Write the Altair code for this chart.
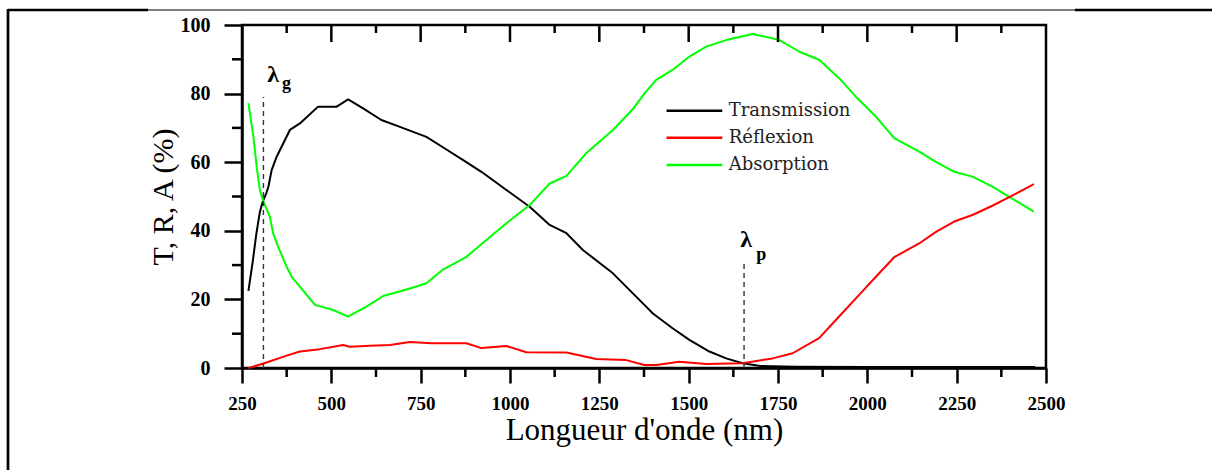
import altair as alt
import pandas as pd

# ---- series ---------------------------------------------------------------
SERIES = ["Transmission", "Réflexion", "Absorption"]
COLORS = ["#000000", "#ff0000", "#00ff00"]

T_NM = [268, 280, 290, 300, 308, 318, 324, 333, 347, 384, 412, 463, 515, 547,
        589, 640, 692, 766, 810, 869, 920, 990, 1055, 1111, 1158, 1204, 1288,
        1376, 1400, 1455, 1502, 1558, 1605, 1651, 1700, 1800, 2000, 2200, 2470]
T_VAL = [22.5, 31.0, 39.0, 45.5, 48.5, 51.0, 52.9, 57.7, 61.6, 69.4, 71.3,
         76.2, 76.2, 78.3, 75.7, 72.3, 70.3, 67.4, 64.5, 60.6, 57.2, 51.9,
         47.0, 41.7, 39.3, 34.4, 27.6, 18.4, 15.9, 11.6, 8.2, 4.8, 2.8, 1.4,
         0.6, 0.4, 0.3, 0.3, 0.3]

R_NM = [268, 310, 375, 412, 468, 533, 552, 608, 664, 720, 780, 878, 920, 990,
        1046, 1158, 1241, 1325, 1376, 1409, 1474, 1549, 1651, 1735, 1791, 1865,
        1921, 1977, 2024, 2075, 2145, 2192, 2243, 2294, 2350, 2397, 2466]
R_VAL = [0.0, 1.3, 3.6, 4.8, 5.5, 6.7, 6.2, 6.5, 6.7, 7.6, 7.2, 7.2, 5.8, 6.4,
         4.6, 4.5, 2.6, 2.3, 0.9, 0.9, 1.8, 1.2, 1.4, 2.8, 4.3, 8.7, 15.0,
         21.3, 26.6, 32.3, 36.3, 39.7, 42.7, 44.6, 47.3, 49.8, 53.6]

A_NM = [268, 282, 291, 300, 310, 328, 337, 351, 375, 389, 412, 454, 505, 547,
        598, 645, 720, 766, 810, 878, 934, 990, 1055, 1111, 1158, 1213, 1288,
        1344, 1376, 1409, 1455, 1502, 1549, 1605, 1679, 1754, 1810, 1866, 1921,
        1968, 2024, 2075, 2145, 2192, 2243, 2294, 2350, 2397, 2466]
A_VAL = [77.2, 67.4, 58.7, 51.9, 48.5, 44.1, 39.3, 35.4, 29.5, 26.6, 23.7,
         18.4, 16.9, 15.0, 17.9, 21.0, 23.2, 24.7, 28.5, 32.4, 37.3, 42.2,
         47.5, 53.8, 56.0, 62.6, 69.4, 75.5, 80.0, 84.0, 86.9, 90.8, 93.7,
         95.6, 97.4, 95.6, 92.2, 89.8, 84.5, 79.1, 73.3, 67.0, 63.1, 60.1,
         57.2, 55.8, 52.9, 49.9, 45.6]

# ---- axes -----------------------------------------------------------------
X_MAJOR = list(range(250, 2501, 250))
X_MINOR = list(range(375, 2500, 250))
Y_MAJOR = [0, 20, 40, 60, 80, 100]
Y_MINOR = [10, 30, 50, 70, 90]

# marked wavelengths: wavelength, top of the dashed line, subscript
MARKS_NM = [310, 1655]
MARKS_TOP = [79.0, 31.5]
MARKS_SUB = ["g", "p"]

SERIF = "Liberation Serif"
W, H = 804, 343

x_scale = alt.Scale(domain=[250, 2500], nice=False, zero=False)
y_scale = alt.Scale(domain=[0, 100], nice=False, zero=False)
color_scale = alt.Scale(domain=SERIES, range=COLORS)

x_axis = alt.Axis(values=X_MAJOR, format="d", grid=False,
                  labelFont=SERIF, labelFontWeight="bold", labelFontSize=19,
                  labelColor="black", labelPadding=11, labelFlush=False,
                  labelOverlap=False, tickSize=15, tickWidth=2.5,
                  tickColor="black", domainColor="black", domainWidth=2.5,
                  title="Longueur d'onde (nm)", titleFont=SERIF,
                  titleFontSize=31, titleFontWeight="normal",
                  titleColor="black", titlePadding=2)
y_axis = alt.Axis(values=Y_MAJOR, format="d", grid=False,
                  labelFont=SERIF, labelFontWeight="bold", labelFontSize=20,
                  labelColor="black", labelPadding=14, labelFlush=False,
                  labelOverlap=False, tickSize=18, tickWidth=2.5,
                  tickColor="black", domainColor="black", domainWidth=2.5,
                  title="T, R, A (%)", titleFont=SERIF, titleFontSize=30,
                  titleFontWeight="normal", titleColor="black",
                  titlePadding=2)

frames = {
    "Transmission": (T_NM, T_VAL),
    "Réflexion": (R_NM, R_VAL),
    "Absorption": (A_NM, A_VAL),
}

layers = []

# curves, black first so red and green sit on top of it
for name in ["Transmission", "Absorption", "Réflexion"]:
    nm, val = frames[name]
    df = pd.DataFrame({"nm": nm, "val": val, "series": name})
    layers.append(
        alt.Chart(df).mark_line(strokeWidth=2, strokeJoin="round").encode(
            x=alt.X("nm:Q", scale=x_scale, axis=x_axis),
            y=alt.Y("val:Q", scale=y_scale, axis=y_axis),
            color=alt.Color("series:N", scale=color_scale, legend=None),
        )
    )

# minor ticks on the bottom (outside) and all ticks on the top (inside)
minor_x = pd.DataFrame({"nm": X_MINOR})
major_x = pd.DataFrame({"nm": X_MAJOR[1:-1]})
layers.append(alt.Chart(minor_x).mark_rule(color="black", strokeWidth=2.5).encode(
    x=alt.X("nm:Q", scale=x_scale), y=alt.value(H), y2=alt.value(H + 9)))
layers.append(alt.Chart(minor_x).mark_rule(color="black", strokeWidth=2.5).encode(
    x=alt.X("nm:Q", scale=x_scale), y=alt.value(0), y2=alt.value(8)))
layers.append(alt.Chart(major_x).mark_rule(color="black", strokeWidth=2.5).encode(
    x=alt.X("nm:Q", scale=x_scale), y=alt.value(0), y2=alt.value(17)))

# minor ticks on the left axis
minor_y = pd.DataFrame({"v": Y_MINOR})
layers.append(alt.Chart(minor_y).mark_rule(color="black", strokeWidth=2.5).encode(
    y=alt.Y("v:Q", scale=y_scale), x=alt.value(0), x2=alt.value(-10)))

# dashed markers for the gap and plasma wavelengths
marks = pd.DataFrame({"nm": MARKS_NM, "top": MARKS_TOP, "sub": MARKS_SUB,
                      "base": [0, 0]})
layers.append(alt.Chart(marks).mark_rule(
    color="#333333", strokeWidth=1.4, strokeDash=[5, 4]).encode(
    x=alt.X("nm:Q", scale=x_scale),
    y=alt.Y("base:Q", scale=y_scale), y2="top:Q"))
layers.append(alt.Chart(marks).transform_calculate(
    lx="datum.nm + (datum.sub == 'g' ? 27 : 6)",
    ly="datum.top + (datum.sub == 'g' ? 4.5 : 3.8)",
    sym="'λ'").mark_text(
    font=SERIF, fontSize=24, fontWeight="bold", color="black",
    baseline="alphabetic", align="center").encode(
    x=alt.X("lx:Q", scale=x_scale), y=alt.Y("ly:Q", scale=y_scale),
    text="sym:N"))
layers.append(alt.Chart(marks).transform_calculate(
    lx="datum.nm + (datum.sub == 'g' ? 52 : 34)",
    ly="datum.top + (datum.sub == 'g' ? 2.2 : 0)").mark_text(
    font=SERIF, fontSize=18, fontWeight="bold", color="black",
    baseline="alphabetic", align="left").encode(
    x=alt.X("lx:Q", scale=x_scale), y=alt.Y("ly:Q", scale=y_scale),
    text="sub:N"))

# legend drawn inside the plot
legend_df = pd.DataFrame({"series": SERIES, "row": [0, 1, 2]})
legend_base = alt.Chart(legend_df).transform_calculate(
    ly="75 - 7.9 * datum.row", x0="1438", x1="1594", xt="1612")
layers.append(legend_base.mark_rule(strokeWidth=2.5).encode(
    x=alt.X("x0:Q", scale=x_scale), x2="x1:Q",
    y=alt.Y("ly:Q", scale=y_scale),
    color=alt.Color("series:N", scale=color_scale, legend=None)))
layers.append(legend_base.mark_text(
    font="DejaVu Serif", fontSize=18, color="#222222", align="left",
    baseline="middle").encode(
    x=alt.X("xt:Q", scale=x_scale), y=alt.Y("ly:Q", scale=y_scale),
    text="series:N"))

# surrounding page frame (top rule and left rule)
one = pd.DataFrame({"k": [0]})
layers.append(alt.Chart(one).mark_rule(color="black", strokeWidth=2.7).encode(
    x=alt.value(-234), x2=alt.value(-94), y=alt.value(-15)))
layers.append(alt.Chart(one).mark_rule(color="black", strokeWidth=1).encode(
    x=alt.value(-94), x2=alt.value(833), y=alt.value(-15)))
layers.append(alt.Chart(one).mark_rule(color="black", strokeWidth=2.7).encode(
    x=alt.value(833), x2=alt.value(970), y=alt.value(-15)))
layers.append(alt.Chart(one).mark_rule(color="black", strokeWidth=2.7).encode(
    x=alt.value(-234), y=alt.value(-16), y2=alt.value(470)))

chart = alt.layer(*layers).properties(
    width=W, height=H,
    autosize=alt.AutoSizeParams(type="none"),
    padding={"left": 242, "top": 25, "right": 1212 - 242 - W,
             "bottom": 470 - 25 - H},
    background="white",
).configure_view(stroke="black", strokeWidth=2.5)

chart.save("out.html", embed_options={"renderer": "svg", "actions": False})
